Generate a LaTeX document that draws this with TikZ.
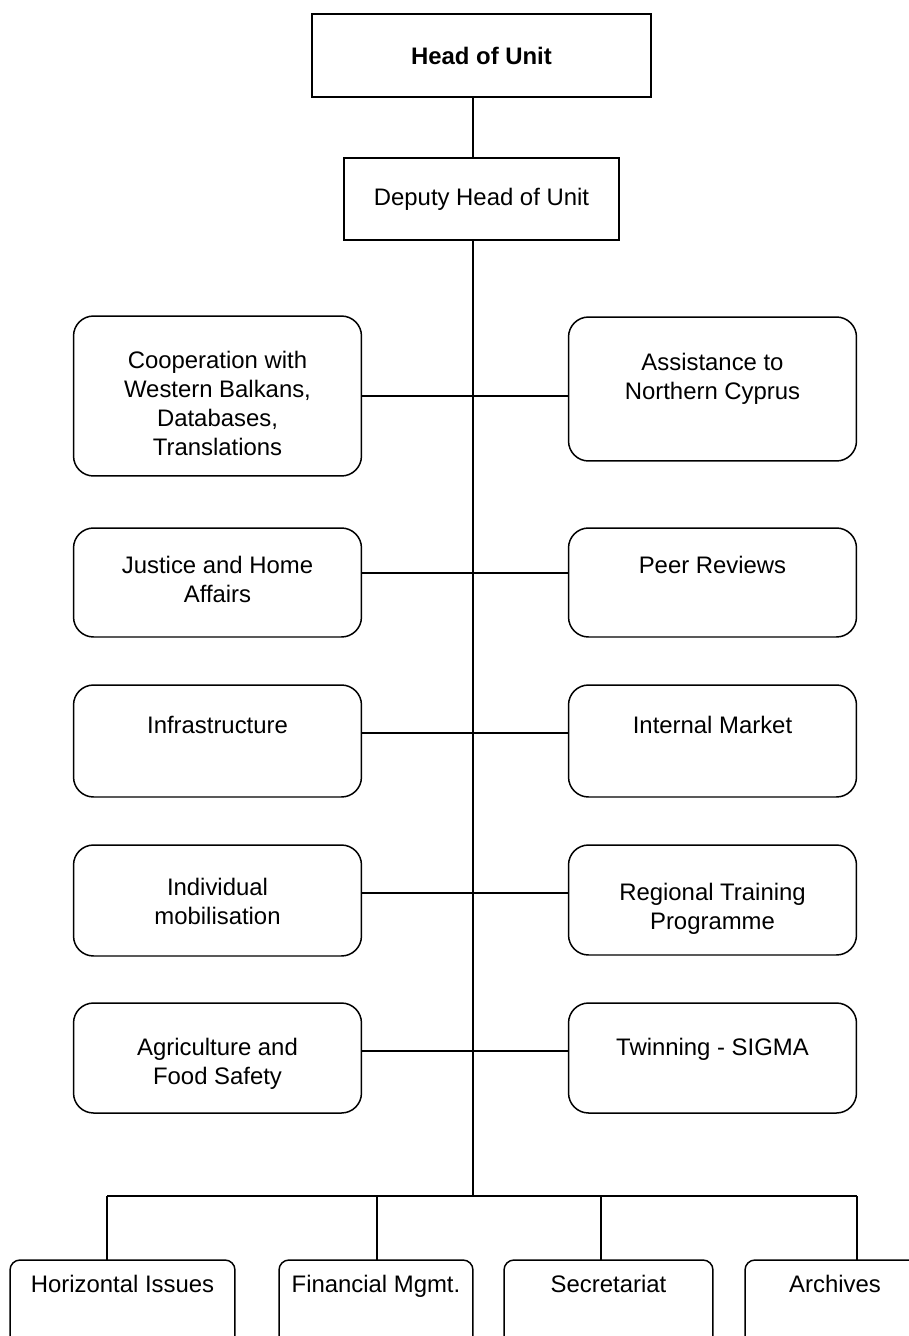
\documentclass[tikz,border=0pt]{standalone}
\usepackage{fontspec}
\setmainfont{Liberation Sans}
\usetikzlibrary{positioning,calc}
\tikzset{
  blk/.style={draw,rectangle,line width=0.85pt,inner sep=0pt,outer sep=0pt},
  headblk/.style={blk,line width=1.1pt,minimum width=6.78cm,minimum height=1.66cm,font=\fontsize{13.6}{16.5}\selectfont\bfseries},
  depblk/.style={blk,minimum width=5.5cm,minimum height=1.64cm,font=\fontsize{13.6}{16.5}\selectfont},
  sideblk/.style={blk,rounded corners=0.4cm,minimum width=5.76cm},
  botblk/.style={blk,rounded corners=0.2cm,minimum height=2cm},
  lbl/.style={inner sep=0pt,align=center,font=\fontsize{13.6}{16.5}\selectfont},
  conn/.style={line width=0.75pt}
}
\begin{document}
\begin{tikzpicture}[x=0.02cm,y=-0.02cm]
  \useasboundingbox (0,0) rectangle (909,1336);
  \clip (0,0) rectangle (909,1336);

  \node[headblk] (head) at (481.5,55.5) {Head of Unit};
  \node[depblk] (deputy) at (481.5,199) {Deputy Head of Unit};

  % left column
  \node[sideblk, minimum height=3.2cm] (coop) at (217.5,396) {};
  \node[sideblk, minimum height=2.18cm] (jha) at (217.5,582.5) {};
  \node[sideblk, minimum height=2.24cm] (infra) at (217.5,741) {};
  \node[sideblk, minimum height=2.22cm] (indiv) at (217.5,900.5) {};
  \node[sideblk, minimum height=2.2cm] (agri) at (217.5,1058) {};
  % right column
  \node[sideblk, minimum height=2.88cm] (assist) at (712.5,389) {};
  \node[sideblk, minimum height=2.18cm] (peer) at (712.5,582.5) {};
  \node[sideblk, minimum height=2.24cm] (intmkt) at (712.5,741) {};
  \node[sideblk, minimum height=2.2cm] (regtrain) at (712.5,900) {};
  \node[sideblk, minimum height=2.2cm] (twin) at (712.5,1058) {};
  % bottom row
  \node[botblk, minimum width=4.5cm] (horiz) at (122.5,1310) {};
  \node[botblk, minimum width=3.88cm] (finmgmt) at (376,1310) {};
  \node[botblk, minimum width=4.18cm] (secr) at (608.5,1310) {};
  \node[botblk, minimum width=3.6cm] (arch) at (835,1310) {};

  \node[lbl, below=0.70cm of coop.north] (coopt) {Cooperation with\\Western Balkans,\\Databases,\\Translations};
  \node[lbl, below=0.56cm of jha.north] (jhat) {Justice and Home\\Affairs};
  \node[lbl, below=0.62cm of infra.north] (infrat) {Infrastructure};
  \node[lbl, below=0.66cm of indiv.north] (indivt) {Individual\\mobilisation};
  \node[lbl, below=0.70cm of agri.north] (agrit) {Agriculture and\\Food Safety};
  \node[lbl, below=0.72cm of assist.north] (assistt) {Assistance to\\Northern Cyprus};
  \node[lbl, below=0.56cm of peer.north] (peert) {Peer Reviews};
  \node[lbl, below=0.62cm of intmkt.north] (intmktt) {Internal Market};
  \node[lbl, below=0.76cm of regtrain.north] (regtraint) {Regional Training\\Programme};
  \node[lbl, below=0.70cm of twin.north] (twint) {Twinning - SIGMA};
  \node[lbl, below=0.30cm of horiz.north] (horizt) {Horizontal Issues};
  \node[lbl, below=0.30cm of finmgmt.north] (finmgmtt) {Financial Mgmt.};
  \node[lbl, below=0.30cm of secr.north] (secrt) {Secretariat};
  \node[lbl, below=0.30cm of arch.north] (archt) {Archives};

  \coordinate (spine) at (473,1196);
  \coordinate (dHoriz) at (107,1196);
  \coordinate (dFin) at (377,1196);
  \coordinate (dSecr) at (601,1196);
  \coordinate (dArch) at (857,1196);

  \draw[conn] (head.south -| spine) -- (deputy.north -| spine);
  \draw[conn] (deputy.south -| spine) -- (spine);

  \draw[conn] (coop.east) -- (coop.east -| assist.west);
  \draw[conn] ([yshift=0.19cm]jha.east) -- ([yshift=0.19cm]jha.east -| peer.west);
  \draw[conn] ([yshift=0.16cm]infra.east) -- ([yshift=0.16cm]infra.east -| intmkt.west);
  \draw[conn] ([yshift=0.15cm]indiv.east) -- ([yshift=0.15cm]indiv.east -| regtrain.west);
  \draw[conn] ([yshift=0.14cm]agri.east) -- ([yshift=0.14cm]agri.east -| twin.west);

  \draw[conn] (dHoriz) -- (dArch);
  \draw[conn] (dHoriz) -- (dHoriz |- horiz.north);
  \draw[conn] (dFin) -- (dFin |- finmgmt.north);
  \draw[conn] (dSecr) -- (dSecr |- secr.north);
  \draw[conn] (dArch) -- (dArch |- arch.north);
\end{tikzpicture}
\end{document}
